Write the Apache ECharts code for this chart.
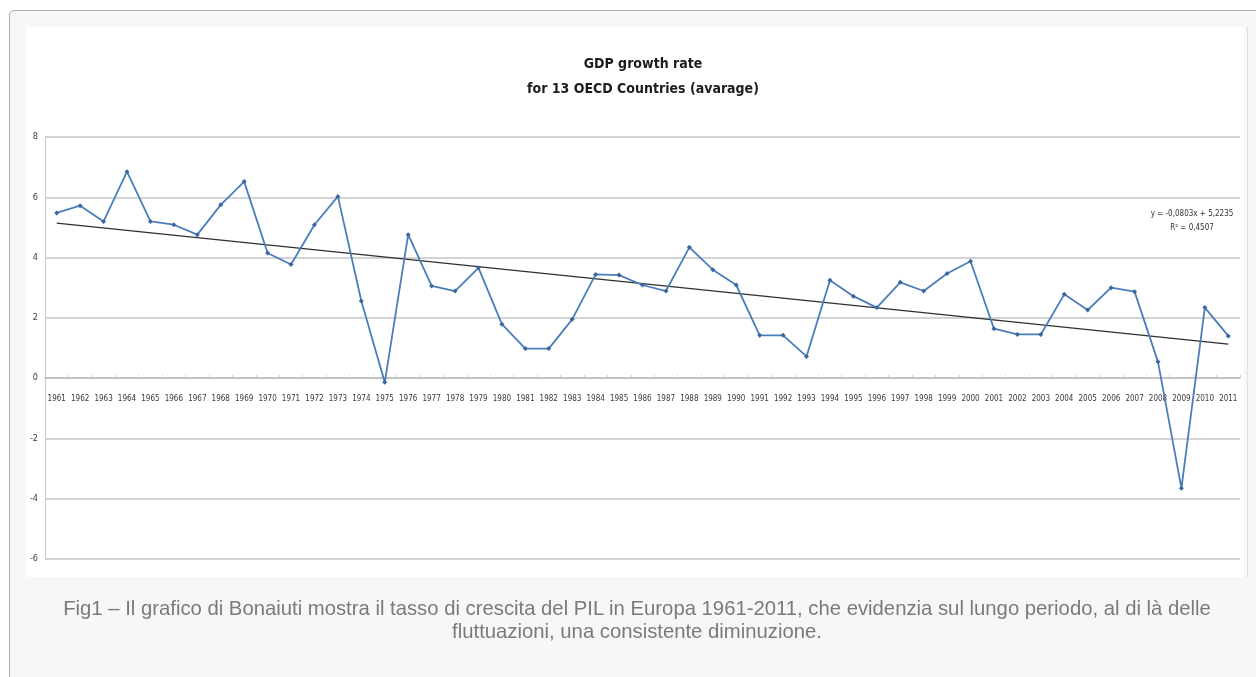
<!DOCTYPE html>
<html><head><meta charset="utf-8">
<script src="https://cdn.jsdelivr.net/npm/echarts@6/dist/echarts.min.js"></script>
<style>
html,body{margin:0;padding:0;width:1256px;height:677px;overflow:hidden;background:#fff;}
#frame{position:absolute;left:9px;top:10px;width:1270px;height:700px;border:1.5px solid #b9ad9f;border-radius:5px;background:#f7f7f7;box-sizing:border-box;}
#paper{position:absolute;left:26px;top:27px;width:1218px;height:550px;background:#fff;}
#edge{position:absolute;left:1247px;top:27px;width:1px;height:550px;background:#e2e2e2;}
#chart{position:absolute;left:0;top:0;width:1256px;height:677px;}
#caption{position:absolute;left:26px;width:1222px;top:597px;text-align:center;font-family:'Liberation Sans',Arial,sans-serif;font-size:20.3px;line-height:23px;color:#7a7a7a;white-space:nowrap;}
</style>
</head>
<body>
<div id="frame"></div>
<div id="paper"></div>
<div id="edge"></div>
<div id="chart"></div>
<div id="caption">Fig1 – Il grafico di Bonaiuti mostra il tasso di crescita del PIL in Europa 1961-2011, che evidenzia sul lungo periodo, al di là delle<br>fluttuazioni, una consistente diminuzione.</div>
<script>
var titleLines = ['GDP growth rate', 'for 13 OECD Countries (avarage)'];
var years = ['1961','1962','1963','1964','1965','1966','1967','1968','1969','1970',
             '1971','1972','1973','1974','1975','1976','1977','1978','1979','1980',
             '1981','1982','1983','1984','1985','1986','1987','1988','1989','1990',
             '1991','1992','1993','1994','1995','1996','1997','1998','1999','2000',
             '2001','2002','2003','2004','2005','2006','2007','2008','2009','2010','2011'];
var growth = [5.48,5.72,5.20,6.85,5.20,5.09,4.76,5.75,6.52,4.15,
              3.77,5.09,6.03,2.56,-0.14,4.76,3.06,2.89,3.66,1.79,
              0.98,0.98,1.95,3.44,3.42,3.09,2.89,4.34,3.60,3.09,
              1.42,1.42,0.72,3.25,2.72,2.34,3.18,2.89,3.47,3.88,
              1.64,1.45,1.45,2.78,2.26,3.00,2.87,0.54,-3.65,2.34,1.40];
// trend line end values (first and last year)
var trendEnds = [5.14, 1.13];
var equationLines = ['y = -0,0803x + 5,2235', 'R² = 0,4507'];
var yTicks = {min: -6, max: 8, interval: 2};

var narrow = "'Liberation Sans Narrow','DejaVu Sans Condensed','Arial Narrow',sans-serif";
var chart = echarts.init(document.getElementById('chart'), null, {renderer: 'canvas'});
chart.setOption({
  animation: false,
  backgroundColor: 'transparent',
  title: {
    text: titleLines.join('\n'),
    left: 638, top: 47, textAlign: 'center',
    textStyle: {fontFamily: narrow, fontWeight: 'bold', fontSize: 14, lineHeight: 25, color: '#1c1c1c'}
  },
  grid: {left: 45, right: 16, top: 137, height: 422, containLabel: false},
  xAxis: {
    type: 'category', data: years, boundaryGap: true,
    offset: -181,
    axisLine: {onZero: false, lineStyle: {color: '#bdbdbd', width: 1.5}},
    axisTick: {show: true, inside: true, length: 3, interval: 0, lineStyle: {color: '#cfcfcf'}},
    axisLabel: {interval: 0, fontFamily: narrow, fontSize: 8, color: '#3a3a3a', margin: 17},
    splitLine: {show: false}
  },
  yAxis: {
    type: 'value', min: yTicks.min, max: yTicks.max, interval: yTicks.interval,
    axisLine: {show: true, lineStyle: {color: '#d0d0d0', width: 1.2}},
    axisTick: {show: false},
    axisLabel: {fontFamily: narrow, fontSize: 9, color: '#3a3a3a', margin: 7},
    splitLine: {lineStyle: {color: '#c4c4c4', width: 1.5}}
  },
  series: [
    {
      type: 'line', data: growth, symbol: 'diamond', symbolSize: 5,
      lineStyle: {color: '#4a7ebb', width: 1.8},
      itemStyle: {color: '#3b679e'}, z: 3
    },
    {
      type: 'line', data: [[0, trendEnds[0]], [years.length - 1, trendEnds[1]]],
      symbol: 'none', lineStyle: {color: '#2e2e2e', width: 1.2}, z: 2
    }
  ],
  graphic: [
    {type: 'text', x: 1192, y: 207, style: {text: equationLines.join('\n'), align: 'center', verticalAlign: 'top', font: "8px " + narrow, lineHeight: 14, fill: '#333'}}
  ]
});
</script>
</body></html>
